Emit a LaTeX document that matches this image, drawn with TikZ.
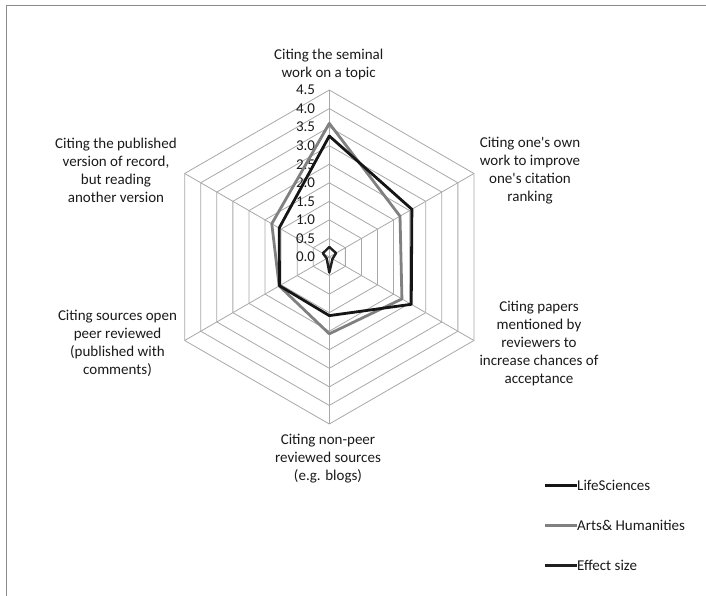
\documentclass[tikz,border=0pt]{standalone}
\usepackage{fontspec}
\setmainfont{Carlito}
\definecolor{gridgray}{HTML}{A8A8A8}
\definecolor{seriesgray}{HTML}{808080}
\definecolor{seriesblack}{HTML}{151515}
\definecolor{effectblack}{HTML}{202020}
\definecolor{framegray}{HTML}{8A8A8A}
\definecolor{txt}{HTML}{1A1A1A}
\newcommand{\apo}{\textquotesingle}
\begin{document}
\begin{tikzpicture}[x=1pt,y=1pt,
  gridline/.style={draw=gridgray,line width=0.8pt},
  lifesci/.style={draw=seriesblack,line width=2.8pt,line join=round},
  arts/.style={draw=seriesgray,line width=2.8pt,line join=round},
  effect/.style={draw=effectblack,line width=2.4pt,line join=round},
  lbl/.style={align=center,text=txt,inner sep=0pt,font=\fontsize{15}{18}\selectfont},
  ticklbl/.style={anchor=east,text=txt,inner sep=0pt,font=\fontsize{15}{18}\selectfont},
  leglbl/.style={anchor=west,text=txt,inner sep=0pt,font=\fontsize{15}{18}\selectfont}]
\useasboundingbox (0,0) rectangle (706,596);
% frame
\draw[framegray,line width=1.5pt] (6.7,0) -- (6.7,590.3) -- (706,590.3);
\def\u{37.11}
\begin{scope}[shift={(329.3,339)}]
  \coordinate (O) at (0,0);
  % grid rings
  \foreach \k in {1,...,9}{
    \pgfmathsetmacro\r{\k*0.5*\u}
    \draw[gridline] (90:\r) -- (30:\r) -- (-30:\r) -- (-90:\r) -- (-150:\r) -- (150:\r) -- cycle;
  }
  \pgfmathsetmacro\R{4.5*\u}
  \foreach \a in {90,30,-30,-90,-150,150}{
    \coordinate (sp\a) at (\a:\R);
    \draw[gridline] (O) -- (sp\a);
  }
  % tick labels
  \foreach \k/\t in {0/0.0,1/0.5,2/1.0,3/1.5,4/2.0,5/2.5,6/3.0,7/3.5,8/4.0,9/4.5}{
    \node[ticklbl] (tick\k) at ({-14},{\k*0.5*\u}) {\t};
  }
  % Arts & Humanities
  \coordinate (a1) at (90:{3.6*\u});
  \coordinate (a2) at (30:{2.2*\u});
  \coordinate (a3) at (-30:{2.26*\u});
  \coordinate (a4) at (-90:{2.07*\u});
  \coordinate (a5) at (-150:{1.56*\u});
  \coordinate (a6) at (150:{1.79*\u});
  \draw[arts] (a1) -- (a2) -- (a3) -- (a4) -- (a5) -- (a6) -- cycle;
  % Life Sciences
  \coordinate (l1) at (90:{3.26*\u});
  \coordinate (l2) at (30:{2.57*\u});
  \coordinate (l3) at (-30:{2.55*\u});
  \coordinate (l4) at (-90:{1.58*\u});
  \coordinate (l5) at (-150:{1.55*\u});
  \coordinate (l6) at (150:{1.56*\u});
  \draw[lifesci] (l1) -- (l2) -- (l3) -- (l4) -- (l5) -- (l6) -- cycle;
  % Effect size
  \coordinate (e1) at (90:{0.27*\u});
  \coordinate (e2) at (30:{0.21*\u});
  \coordinate (e3) at (-30:{0.1*\u});
  \coordinate (e4) at (-90:{0.42*\u});
  \coordinate (e5) at (-150:{0.08*\u});
  \coordinate (e6) at (150:{0.2*\u});
  \draw[effect] (e1) -- (e2) -- (e3) -- (e4) -- (e5) -- (e6) -- cycle;
\end{scope}
% axis labels
\node[lbl] (axTop) at (328.7,531) {Citing the seminal\\work on a topic};
\node[lbl] (axUR) at (530,425.3) {Citing one\apo s own\\work to improve\\one\apo s citation\\ranking};
\node[lbl] (axLR) at (539,252) {Citing papers\\mentioned by\\reviewers to\\increase chances of\\acceptance};
\node[lbl] (axB) at (328,137) {Citing non-peer\\reviewed sources\\(e.g. blogs)};
\node[lbl] (axLL) at (117.5,252.7) {Citing sources open\\peer reviewed\\(published with\\comments)};
\node[lbl] (axUL) at (116,426) {Citing the published\\version of record,\\but reading\\another version};
% legend
\node[leglbl] (leg1) at (577,110.3) {LifeSciences};
\node[leglbl] (leg2) at (577,70.4) {Arts\& Humanities};
\node[leglbl] (leg3) at (577,30.4) {Effect size};
\coordinate (leg1s) at (545,110.3);
\coordinate (leg2s) at (545,70.4);
\coordinate (leg3s) at (545,30.4);
\draw[lifesci,line cap=butt] (leg1s) -- (leg1.west);
\draw[arts,line cap=butt] (leg2s) -- (leg2.west);
\draw[effect,line cap=butt] (leg3s) -- (leg3.west);
\end{tikzpicture}
\end{document}
